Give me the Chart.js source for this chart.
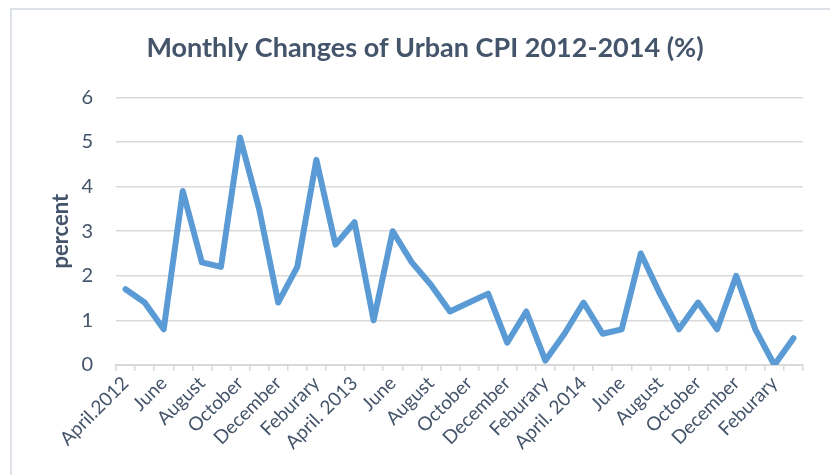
<!DOCTYPE html>
<html>
<head>
<meta charset="utf-8">
<title>Urban CPI</title>
<script src="https://cdn.jsdelivr.net/npm/chart.js@4"></script>
<style>
  html, body { margin: 0; padding: 0; background: #fff; }
  #cpi { display: block; }
</style>
</head>
<body>
<canvas id="cpi" width="830" height="475"></canvas>
<script>
// months from April 2012 to March 2015, only every other one gets printed
let months = [
  'April.2012','May','June','July','August','September','October','November','December','January','Feburary','March',
  'April. 2013','May','June','July','August','September','October','November','December','January','Feburary','March',
  'April. 2014','May','June','July','August','September','October','November','December','January','Feburary','March'
];
let cpiChange = [
  1.7, 1.4, 0.8, 3.9, 2.3, 2.2, 5.1, 3.5, 1.4, 2.2, 4.6, 2.7,
  3.2, 1.0, 3.0, 2.3, 1.8, 1.2, 1.4, 1.6, 0.5, 1.2, 0.1, 0.7,
  1.4, 0.7, 0.8, 2.5, 1.6, 0.8, 1.4, 0.8, 2.0, 0.8, 0.0, 0.6
];
let yTicks = [0, 1, 2, 3, 4, 5, 6];

let textColor = '#44546a';
let gridColor = '#d9d9d9';

// light frame round the whole chart (runs off the right and bottom edge)
let frame = {
  id: 'frame',
  beforeDraw(chart) {
    let ctx = chart.ctx;
    ctx.save();
    ctx.strokeStyle = '#dde1e8';
    ctx.lineWidth = 2;
    ctx.strokeRect(11, 9, 900, 600);
    ctx.restore();
  }
};

let ctx = document.querySelector('#cpi').getContext('2d');
let chart = new Chart(ctx, {
  type: 'line',
  data: {
    labels: months,
    datasets: [{
      label: 'Urban CPI',
      data: cpiChange,
      borderColor: '#5b9bd5',
      borderWidth: 6,
      borderCapStyle: 'round',
      borderJoinStyle: 'round',
      pointRadius: 0,
      tension: 0,
      fill: false
    }]
  },
  options: {
    responsive: false,
    animation: false,
    layout: { padding: { left: 47, right: 27, top: 0, bottom: 0 } },
    plugins: {
      legend: { display: false },
      tooltip: { enabled: false },
      title: {
        display: true,
        text: 'Monthly Changes of Urban CPI 2012-2014 (%)',
        color: textColor,
        font: { family: 'Lato', size: 27, weight: 'bold' },
        padding: { top: 32, bottom: 33 }
      }
    },
    scales: {
      x: {
        offset: true,
        grid: {
          offset: true,
          drawOnChartArea: false,
          drawTicks: true,
          tickLength: 6,
          color: gridColor,
          lineWidth: 1.5
        },
        border: { color: gridColor, width: 2 },
        ticks: {
          autoSkip: false,
          minRotation: 45,
          maxRotation: 45,
          padding: 1,
          color: textColor,
          font: { family: 'Lato', size: 19 },
          callback: function(value, index) {
            return index % 2 === 0 ? months[index] : '';
          }
        },
        afterFit: function(scale) { scale.height = 110; }
      },
      y: {
        min: 0,
        max: 6,
        afterBuildTicks: function(scale) {
          scale.ticks = yTicks.map(v => ({ value: v }));
        },
        grid: { color: gridColor, lineWidth: 1.5, drawTicks: false },
        border: { display: false },
        ticks: {
          padding: 23,
          color: textColor,
          font: { family: 'Lato', size: 20 }
        },
        title: {
          display: true,
          text: 'percent',
          color: textColor,
          font: { family: 'Lato', size: 22, weight: 'bold' },
          padding: { top: 1, bottom: 0 }
        },
        afterFit: function(scale) { scale.width = 69; }
      }
    }
  },
  plugins: [frame]
});
</script>
</body>
</html>
